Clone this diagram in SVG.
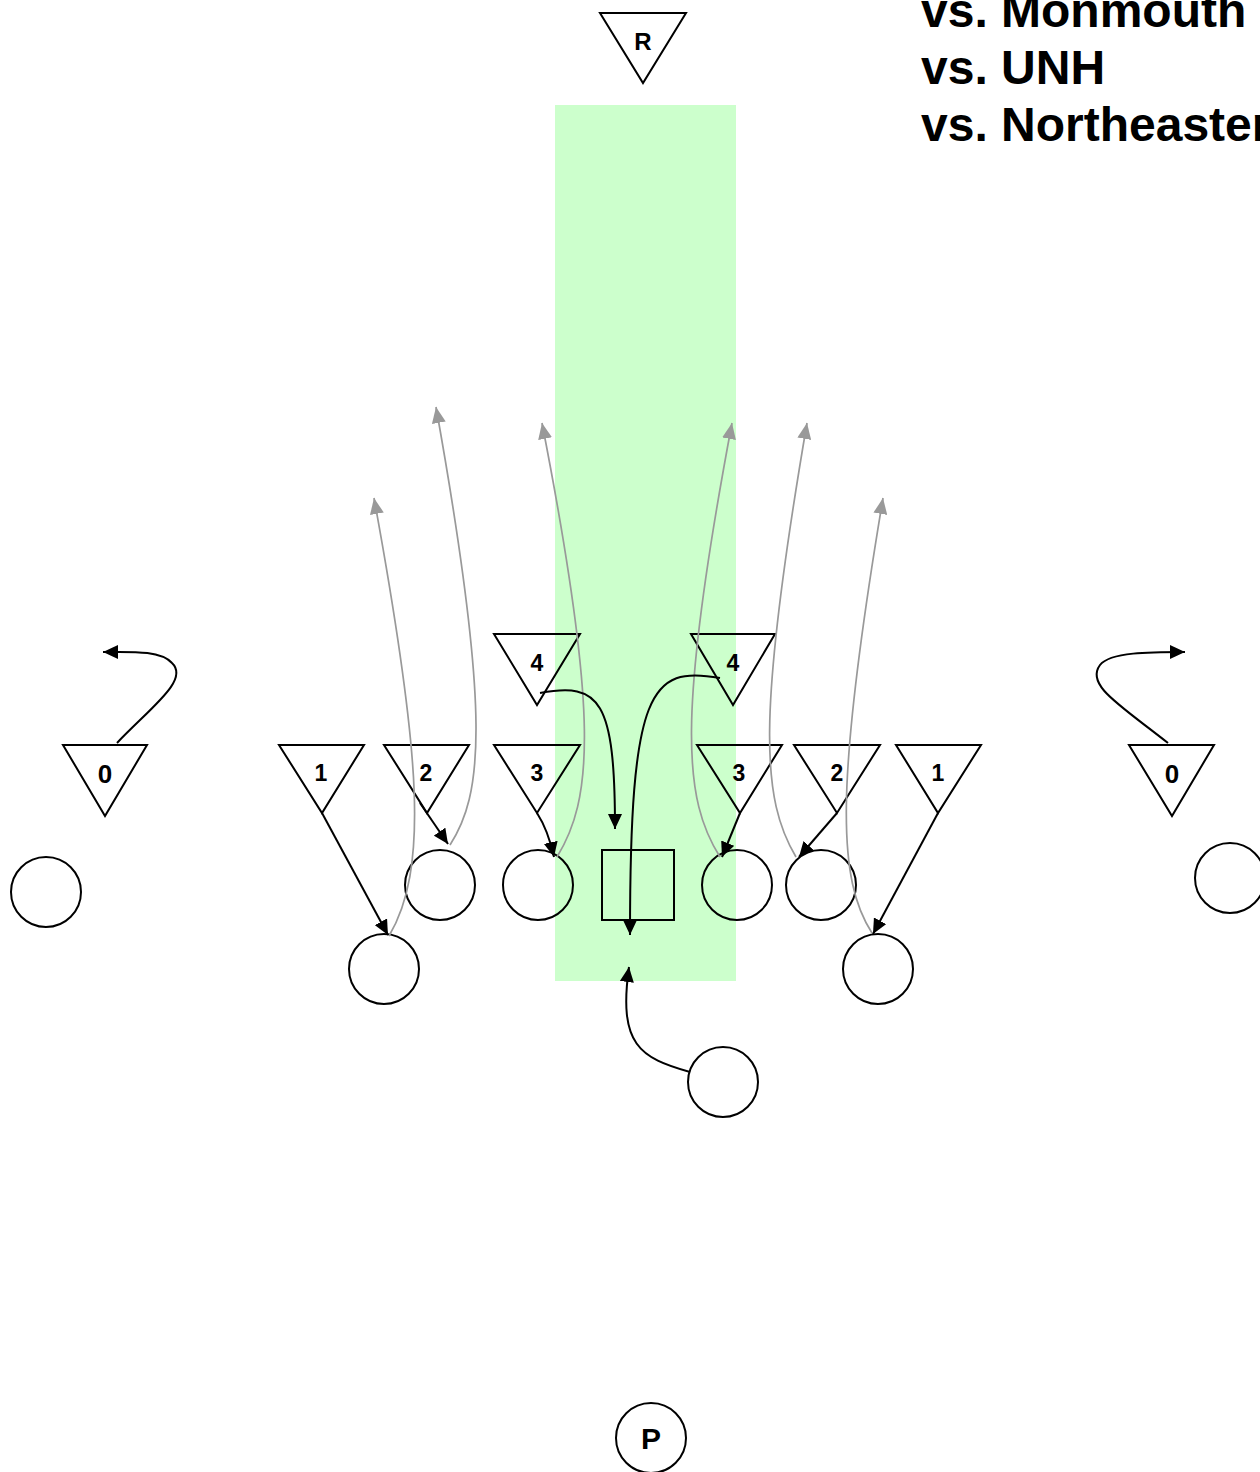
<svg xmlns="http://www.w3.org/2000/svg" width="1260" height="1472" viewBox="0 0 1260 1472">
<style>
.sh{fill:none;stroke:#000;stroke-width:2}
.lb{font-family:"Liberation Sans",Arial,sans-serif;font-weight:bold;text-anchor:middle;fill:#000}
.n{font-size:23px}
.z{font-size:26px}
.bk{fill:none;stroke:#000;stroke-width:2;marker-end:url(#ab)}
.gr{fill:none;stroke:#999;stroke-width:1.7;marker-end:url(#ag)}
.title{font-family:"Liberation Sans",Arial,sans-serif;font-weight:bold;font-size:48px;fill:#000}
</style>
<defs>
<marker id="ab" viewBox="0 0 10 10" refX="10" refY="5" markerUnits="userSpaceOnUse" markerWidth="15" markerHeight="14" orient="auto" preserveAspectRatio="none"><path d="M0,0 L10,5 L0,10 z" fill="#000"/></marker>
<marker id="ag" viewBox="0 0 10 10" refX="10" refY="5" markerUnits="userSpaceOnUse" markerWidth="16" markerHeight="14" orient="auto" preserveAspectRatio="none"><path d="M0,0 L10,5 L0,10 z" fill="#999"/></marker>
</defs>
<rect id="zone" x="555" y="105" width="181" height="876" fill="#ccffcc"/>
<g id="title">
<text class="title" x="921" y="27">vs. Monmouth</text>
<text class="title" x="921" y="84">vs. UNH</text>
<text class="title" x="921" y="141">vs. Northeastern</text>
</g>
<g id="R"><polygon class="sh" points="600,13 686,13 643,83"/><text class="lb" x="643" y="50" style="font-size:24px">R</text></g>
<g id="L0"><polygon class="sh" points="63,745 147,745 105,816"/><text class="lb z" x="105" y="783">0</text></g>
<g id="L1"><polygon class="sh" points="279,745 364,745 322,813"/><text class="lb n" x="321" y="781">1</text></g>
<g id="L2"><polygon class="sh" points="384,745 469,745 427,813"/><text class="lb n" x="426" y="781">2</text></g>
<g id="L3"><polygon class="sh" points="494,745 580,745 537,813"/><text class="lb n" x="537" y="781">3</text></g>
<g id="L4"><polygon class="sh" points="494,634 580,634 537,705"/><text class="lb n" x="537" y="671">4</text></g>
<g id="R4"><polygon class="sh" points="691,634 775,634 733,705"/><text class="lb n" x="733" y="671">4</text></g>
<g id="R3"><polygon class="sh" points="697,745 782,745 740,813"/><text class="lb n" x="739" y="781">3</text></g>
<g id="R2"><polygon class="sh" points="794,745 880,745 837,813"/><text class="lb n" x="837" y="781">2</text></g>
<g id="R1"><polygon class="sh" points="896,745 981,745 938,813"/><text class="lb n" x="938" y="781">1</text></g>
<g id="R0"><polygon class="sh" points="1129,745 1214,745 1172,816"/><text class="lb z" x="1172" y="783">0</text></g>
<g id="C"><rect class="sh" x="602" y="850" width="72" height="70"/></g>
<g id="oL"><circle class="sh" cx="46" cy="892" r="35"/></g>
<g id="oL1"><circle class="sh" cx="384" cy="969" r="35"/></g>
<g id="oL2"><circle class="sh" cx="440" cy="885" r="35"/></g>
<g id="oL3"><circle class="sh" cx="538" cy="885" r="35"/></g>
<g id="oR3"><circle class="sh" cx="737" cy="885" r="35"/></g>
<g id="oR2"><circle class="sh" cx="821" cy="885" r="35"/></g>
<g id="oR1"><circle class="sh" cx="878" cy="969" r="35"/></g>
<g id="oR"><circle class="sh" cx="1230" cy="878" r="35"/></g>
<g id="oB"><circle class="sh" cx="723" cy="1082" r="35"/></g>
<g id="P"><circle class="sh" cx="651" cy="1438" r="35"/><text class="lb" x="651" y="1449" style="font-size:30px">P</text></g>
<g id="connectors">
<path class="gr" d="M389,936 C428,870 422,760 374,498"/>
<path class="gr" d="M450,845 C482,795 492,720 436,407"/>
<path class="gr" d="M557,857 C592,800 600,720 542,423"/>
<path class="gr" d="M720,857 C684,800 676,720 732,423"/>
<path class="gr" d="M796,857 C762,800 756,720 807,423"/>
<path class="gr" d="M872,933 C838,880 834,790 883,498"/>
<path class="bk" d="M322,813 L388,935"/>
<path class="bk" d="M420,803 L448,844"/>
<path class="bk" d="M537,813 Q548,830 554,857"/>
<path class="bk" d="M740,813 L722,857"/>
<path class="bk" d="M837,813 L799,857"/>
<path class="bk" d="M938,813 L873,934"/>
<path class="bk" d="M540,693 C600,682 615,700 615,829"/>
<path class="bk" d="M720,678 C650,665 630,690 630,935"/>
<path class="bk" d="M690,1072 C640,1058 618,1045 629,967"/>
<path class="bk" d="M117,743 C150,708 190,680 172,663 C160,650 130,652 103,652"/>
<path class="bk" d="M1168,743 C1120,705 1085,685 1100,665 C1110,652 1150,652 1185,652"/>
</g>
</svg>
